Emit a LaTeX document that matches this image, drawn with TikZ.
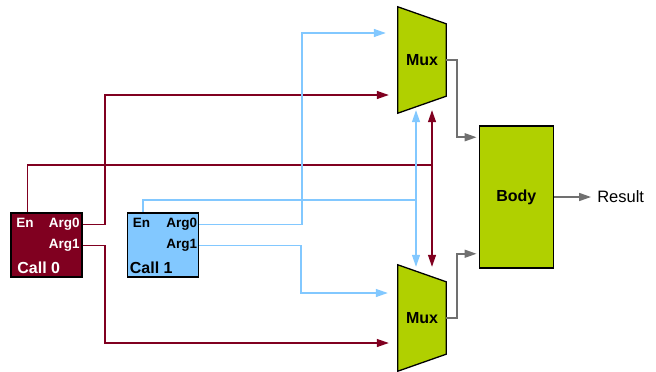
\documentclass[tikz,border=0pt]{standalone}
\usepackage{fontspec}
\setmainfont{Liberation Sans}
\definecolor{callred}{RGB}{128,0,32}
\definecolor{callblue}{RGB}{130,200,255}
\definecolor{limegreen}{RGB}{176,208,0}
\definecolor{wiregray}{RGB}{112,112,112}
\usetikzlibrary{arrows.meta, positioning, calc, backgrounds}

\begin{document}
\begin{tikzpicture}[
    x=1pt, y=-1pt,
    callbox/.style={
      rectangle,
      draw=black,
      line width=1.6pt,
      minimum width=71pt,
      minimum height=64pt,
      inner sep=0pt
    },
    pinlabel/.style={
      inner sep=0pt,
      font=\fontsize{13.5}{15}\selectfont\bfseries
    },
    calllabel/.style={
      inner sep=0pt,
      font=\fontsize{16}{18}\selectfont\bfseries
    },
    muxbox/.style={
      rectangle,
      minimum width=48pt,
      minimum height=106pt,
      inner sep=0pt,
      font=\fontsize{16}{18}\selectfont\bfseries
    },
    muxshape/.style={
      draw=black,
      fill=limegreen,
      line width=1.3pt
    },
    bodybox/.style={
      rectangle,
      draw=black,
      fill=limegreen,
      line width=1.5pt,
      minimum width=74pt,
      minimum height=142pt,
      font=\fontsize{16}{18}\selectfont\bfseries
    },
    redwire/.style={draw=callred, line width=1.3pt},
    bluewire/.style={draw=callblue, line width=1.3pt},
    graywire/.style={draw=wiregray, line width=1.6pt},
    >={Triangle[length=12pt,width=8pt]}
  ]
    \useasboundingbox (0,0) rectangle (656,372);

    % Call sites
    \node (call0) [callbox, fill=callred] at (46.5,245) {};
    \node (c0en) [pinlabel, text=white, below right=6pt and 6pt of call0.north west] {En};
    \node (c0a0) [pinlabel, text=white, below left=6pt and 3pt of call0.north east] {Arg0};
    \node (c0a1) [pinlabel, text=white, below left=27pt and 3pt of call0.north east] {Arg1};
    \node (c0name) [calllabel, text=white, above right=4pt and 7pt of call0.south west] {Call 0};

    \node (call1) [callbox, fill=callblue] at (163,245) {};
    \node (c1en) [pinlabel, below right=6pt and 6pt of call1.north west] {En};
    \node (c1a0) [pinlabel, below left=6pt and 2pt of call1.north east] {Arg0};
    \node (c1a1) [pinlabel, below left=27pt and 2pt of call1.north east] {Arg1};
    \node (c1name) [calllabel, above right=4pt and 3pt of call1.south west] {Call 1};

    % Muxes and body
    \node (muxA) [muxbox] at (422,60) {Mux};
    \node (muxB) [muxbox] at (422,318) {Mux};
    \node (body) [bodybox] at (516.3,197) {Body};
    \node (result) [right=37pt of body, inner sep=6pt, anchor=west,
      font=\fontsize{16.5}{18}\selectfont] {Result};

    \begin{pgfonlayer}{background}
      \foreach \m in {muxA,muxB}
        \draw[muxshape] (\m.north west) -- ([yshift=-17pt]\m.north east)
          -- ([yshift=17pt]\m.south east) -- (\m.south west) -- cycle;
    \end{pgfonlayer}

    \coordinate (enred) at (432,165);
    \coordinate (enblue) at (416,200);

    % Enable lines
    \draw[redwire] ([xshift=2.5pt]c0en.center |- call0.north) |- (enred);
    \draw[bluewire] ([xshift=1.5pt]c1en.center |- call1.north) |- (enblue);
    \draw[bluewire,<->] ([xshift=-6pt,yshift=3pt]muxA.south) -- ([xshift=-6pt,yshift=-2pt]muxB.north);
    \draw[redwire,<->] ([xshift=10pt,yshift=3pt]muxA.south) -- ([xshift=10pt,yshift=-2pt]muxB.north);

    % Argument lines
    \draw[redwire,->,shorten >=9pt] (call0.east |- c0a0) -| (105,95) -- (muxA.west |- 0,95);
    \draw[redwire,->,shorten >=9pt] (call0.east |- c0a1) -| (105,343) -- (muxB.west |- 0,343);
    \draw[bluewire,->,shorten >=12pt] (call1.east |- c1a0) -| (302,33) -- (muxA.west |- 0,33);
    \draw[bluewire,->,shorten >=10pt] (call1.east |- c1a1) -| (301,293) -- (muxB.west |- 0,293);

    % Outputs
    \draw[graywire,->,shorten >=2pt] (muxA.east) -- ++(11,0) |- ([yshift=-12pt]body.north west);
    \draw[graywire,->,shorten >=2pt] (muxB.east) -- ++(11,0) |- ([yshift=15pt]body.south west);
    \draw[graywire,->] (body.east) -- (result.west);

  \end{tikzpicture}
\end{document}
